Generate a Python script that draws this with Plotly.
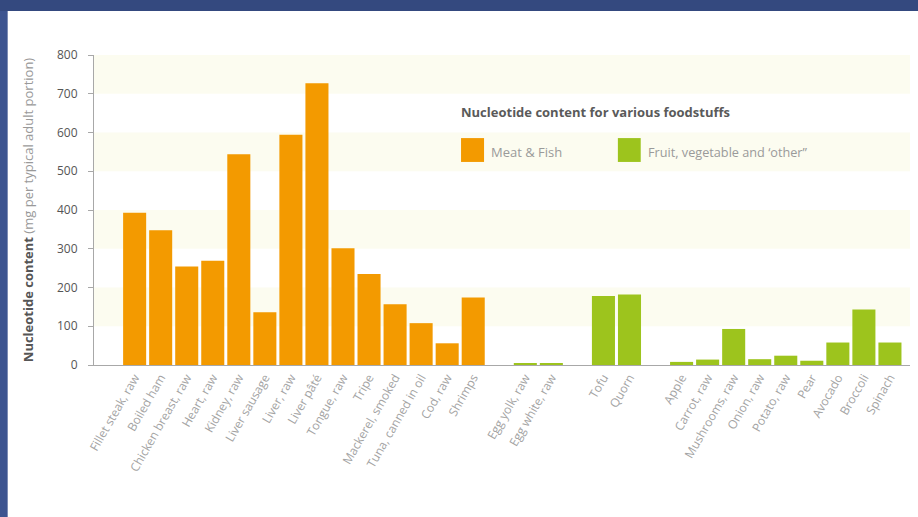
import plotly.graph_objects as go

# ---- data ----
meat_names = ["Fillet steak, raw", "Boiled ham", "Chicken breast, raw", "Heart, raw",
              "Kidney, raw", "Liver sausage", "Liver, raw", "Liver pâté", "Tongue, raw",
              "Tripe", "Mackerel, smoked", "Tuna, canned in oil", "Cod, raw", "Shrimps"]
meat_values = [393, 348, 254, 269, 544, 136, 594, 727, 301, 235, 157, 108, 56, 174]

other_names = ["Egg yolk, raw", "Egg white, raw", "Tofu", "Quorn", "Apple", "Carrot, raw",
               "Mushrooms, raw", "Onion, raw", "Potato, raw", "Pear", "Avocado",
               "Broccoli", "Spinach"]
other_values = [4, 4, 178, 182, 8, 14, 93, 15, 24, 11, 58, 143, 58]

gap1, gap2, gap3 = " ", "  ", "   "
category_order = (meat_names + [gap1] + other_names[:2] + [gap2] + other_names[2:4]
                  + [gap3] + other_names[4:])

y_ticks = [0, 100, 200, 300, 400, 500, 600, 700, 800]

legend_title = "Nucleotide content for various foodstuffs"
meat_label = "Meat &amp; Fish"
other_label = "Fruit, vegetable and ‘other”"

ORANGE = "#F39A00"
GREEN = "#9DC41D"
FONT = "Open Sans"

fig = go.Figure()
fig.add_trace(go.Bar(x=meat_names, y=meat_values, marker=dict(color=ORANGE, line=dict(width=0)),
                     name="Meat & Fish", showlegend=False))
fig.add_trace(go.Bar(x=other_names, y=other_values, marker=dict(color=GREEN, line=dict(width=0)),
                     name="Fruit, vegetable and 'other'", showlegend=False))

# alternating light bands
shapes = []
for lo in [700, 500, 300, 100]:
    shapes.append(dict(type="rect", xref="paper", x0=0, x1=1, yref="y", y0=lo, y1=lo + 100,
                       fillcolor="#FCFCF0", line=dict(width=0), layer="below"))
# blue frame strips
shapes.append(dict(type="rect", xref="paper", x0=-0.1152, x1=-0.1058, yref="paper", y0=-0.6, y1=1.2,
                   fillcolor="#3D5490", line=dict(width=0), layer="above"))
shapes.append(dict(type="rect", xref="paper", x0=-0.1152, x1=1.02, yref="paper", y0=1.142, y1=1.2,
                   fillcolor="#34497F", line=dict(width=0), layer="above"))
# legend swatches
shapes.append(dict(type="rect", xref="paper", yref="paper", x0=0.4498, x1=0.478, y0=0.655, y1=0.732,
                   fillcolor=ORANGE, line=dict(width=0)))
shapes.append(dict(type="rect", xref="paper", yref="paper", x0=0.642, x1=0.670, y0=0.655, y1=0.732,
                   fillcolor=GREEN, line=dict(width=0)))

annotations = [
    dict(text="<b>" + legend_title + "</b>", xref="paper", yref="paper", x=0.447, y=0.817,
         xanchor="left", yanchor="middle", showarrow=False,
         font=dict(family=FONT, size=13, color="#5A5A5A")),
    dict(text=meat_label, xref="paper", yref="paper", x=0.484, y=0.688,
         xanchor="left", yanchor="middle", showarrow=False,
         font=dict(family=FONT, size=13, color="#9A9A9A")),
    dict(text=other_label, xref="paper", yref="paper", x=0.676, y=0.688,
         xanchor="left", yanchor="middle", showarrow=False,
         font=dict(family=FONT, size=12.7, color="#9A9A9A")),
]

fig.update_layout(
    width=918, height=517,
    margin=dict(l=94, r=8, t=55, b=152, autoexpand=False),
    paper_bgcolor="white", plot_bgcolor="white",
    barmode="overlay", bargap=0.115,
    shapes=shapes, annotations=annotations,
    font=dict(family=FONT),
    xaxis=dict(type="category", categoryorder="array", categoryarray=category_order,
               range=[-1.56, 29.77], tickangle=-60, showgrid=False, zeroline=False,
               showline=True, linecolor="#A8A8A8", linewidth=1, ticks="",
               tickfont=dict(family=FONT, size=12, color="#A3A3A3")),
    yaxis=dict(range=[0, 800], tickvals=y_ticks, showgrid=False, zeroline=False,
               showline=True, linecolor="#A8A8A8", linewidth=1, ticks="outside", ticklen=5,
               ticklabelstandoff=8,
               tickcolor="#A8A8A8", tickfont=dict(family=FONT, size=12, color="#555555"),
               title=dict(text="<b>Nucleotide content</b> <span style='color:#999999'>(mg per typical adult portion)</span>",
                          font=dict(family=FONT, size=13, color="#555555"), standoff=20)),
)

fig.write_html("out.html")
